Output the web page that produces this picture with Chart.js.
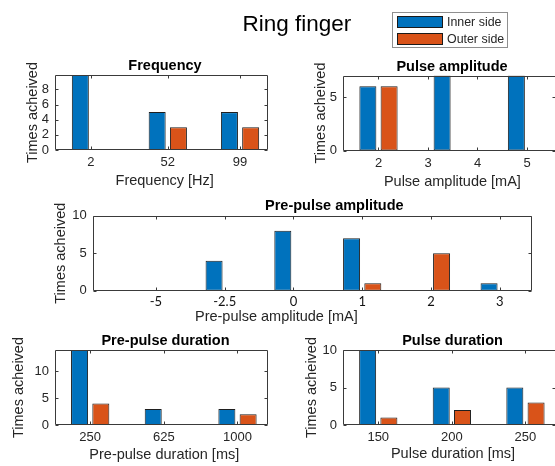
<!DOCTYPE html>
<html>
<head>
<meta charset="utf-8">
<title>Ring finger</title>
<script src="https://cdn.jsdelivr.net/npm/chart.js@4.4.1/dist/chart.umd.min.js"></script>
<style>
  html, body { margin: 0; padding: 0; background: #fff; }
  #fig { position: relative; width: 555px; height: 466px; overflow: hidden; background: #fff;
         font-family: "Liberation Sans", Arial, Helvetica, sans-serif; }
  canvas.panel { position: absolute; left: 0; top: 0; }
  #suptitle { position: absolute; left: 296.8px; top: 13.4px; transform: translateX(-50%);
              font-size: 22.5px; line-height: 22.5px; color: #000; white-space: nowrap; }
  #legend { position: absolute; left: 392px; top: 12px; width: 116px; height: 36px;
            border: 1px solid #8f8f8f; background: #fff; box-sizing: border-box; }
  .lg-item { position: absolute; left: 4px; height: 13px; }
  .lg-swatch { position: absolute; left: 0; top: 0; width: 46px; height: 12px;
               border: 1px solid #1a1a1a; box-sizing: border-box; }
  .lg-text { position: absolute; left: 50px; top: -1px; font-size: 12.4px; line-height: 14px;
             color: #262626; white-space: nowrap; }
</style>
</head>
<body>
<div id="fig">
  <canvas id="cFreq" class="panel" width="600" height="466"></canvas>
  <canvas id="cPulseAmp" class="panel" width="600" height="466"></canvas>
  <canvas id="cPrePulseAmp" class="panel" width="600" height="466"></canvas>
  <canvas id="cPrePulseDur" class="panel" width="600" height="466"></canvas>
  <canvas id="cPulseDur" class="panel" width="600" height="466"></canvas>
  <div id="suptitle">Ring finger</div>
  <div id="legend">
    <div class="lg-item" style="top:3px"><div class="lg-swatch" id="swInner"></div><div class="lg-text" id="txInner"></div></div>
    <div class="lg-item" style="top:19.5px"><div class="lg-swatch" id="swOuter"></div><div class="lg-text" id="txOuter"></div></div>
  </div>
</div>
<script>
// ---- data -----------------------------------------------------------------
const seriesNames = ['Inner side', 'Outer side'];

// Frequency [Hz]
const freqValues = [2, 52, 99];
const freqInner  = [10, 5, 5];
const freqOuter  = [0, 3, 3];
const freqYTicks = [0, 2, 4, 6, 8];

// Pulse amplitude [mA]
const pulseAmpValues = [2, 3.5, 5];
const pulseAmpInner  = [6, 7, 7];
const pulseAmpOuter  = [6, 0, 0];
const pulseAmpXTicks = [2, 3, 4, 5];
const pulseAmpYTicks = [0, 5];

// Pre-pulse amplitude [mA]
const prePulseAmpLabels = ['-5', '-2.5', '0', '1', '2', '3'];
const prePulseAmpInner  = [0, 4, 8, 7, 0, 1];
const prePulseAmpOuter  = [0, 0, 0, 1, 5, 0];
const prePulseAmpYTicks = [0, 5, 10];

// Pre-pulse duration [ms]
const prePulseDurValues = [250, 625, 1000];
const prePulseDurInner  = [14, 3, 3];
const prePulseDurOuter  = [4, 0, 2];
const prePulseDurYTicks = [0, 5, 10];

// Pulse duration [ms]
const pulseDurValues = [150, 200, 250];
const pulseDurInner  = [10, 5, 5];
const pulseDurOuter  = [1, 2, 3];
const pulseDurYTicks = [0, 5, 10];

// ---- styling ----------------------------------------------------------------
const INNER_COLOR = '#0072BD';
const OUTER_COLOR = '#D95319';
const EDGE_COLOR  = '#1f1f1f';
const AXIS_COLOR  = '#3a3a3a';
const TEXT_COLOR  = '#262626';
const FONT = '"Liberation Sans", Arial, Helvetica, sans-serif';
const CANVAS_W = 600, CANVAS_H = 466;
const Y_SCALE_W = 30, X_SCALE_H = 30;
const GROUP_PX = 42.5;      // width taken by a pair of bars
const TICK_LEN = 3;

// legend swatches and text
document.getElementById('swInner').style.background = INNER_COLOR;
document.getElementById('swOuter').style.background = OUTER_COLOR;
document.getElementById('txInner').textContent = seriesNames[0];
document.getElementById('txOuter').textContent = seriesNames[1];

// Box around the axes with inward tick marks, plus the panel texts
const axesBox = {
  id: 'axesBox',
  afterDraw(chart, args, opts) {
    const { ctx, chartArea: a } = chart;
    const x = chart.scales.x, y = chart.scales.y;
    ctx.save();
    ctx.strokeStyle = AXIS_COLOR;
    ctx.lineWidth = 1;
    const L = Math.round(a.left) + 0.5, R = Math.round(a.right) - 0.5;
    const T = Math.round(a.top) + 0.5, B = Math.round(a.bottom) - 0.5;
    ctx.beginPath();
    ctx.rect(L, T, R - L, B - T);
    x.ticks.forEach(t => {
      const px = Math.round(x.getPixelForValue(t.value)) + 0.5;
      ctx.moveTo(px, B); ctx.lineTo(px, B - TICK_LEN);
      ctx.moveTo(px, T); ctx.lineTo(px, T + TICK_LEN);
    });
    y.ticks.forEach(t => {
      const py = Math.round(y.getPixelForValue(t.value)) + 0.5;
      ctx.moveTo(L, py); ctx.lineTo(L + TICK_LEN, py);
      ctx.moveTo(R, py); ctx.lineTo(R - TICK_LEN, py);
    });
    ctx.stroke();

    const cx = (a.left + a.right) / 2, cy = (a.top + a.bottom) / 2;
    ctx.textBaseline = 'alphabetic';
    ctx.textAlign = 'center';
    // panel title
    ctx.fillStyle = '#000';
    ctx.font = 'bold 14.5px ' + FONT;
    ctx.fillText(opts.title, cx + opts.titleDx, a.top + opts.titleDy);
    // x label
    ctx.fillStyle = TEXT_COLOR;
    ctx.font = '14.5px ' + FONT;
    ctx.fillText(opts.xLabel, cx + opts.xLabelDx, a.bottom + opts.xLabelDy);
    // y label
    ctx.translate(a.left + opts.yLabelDx, cy);
    ctx.rotate(-Math.PI / 2);
    ctx.fillText(opts.yLabel, 0, 0);
    ctx.restore();
  }
};

// smallest positive step inside a sorted list of positions
function minStep(list) {
  const s = [...list].sort((a, b) => a - b);
  let m = Infinity;
  for (let i = 1; i < s.length; i++) {
    const d = s[i] - s[i - 1];
    if (d > 0) m = Math.min(m, d);
  }
  return m;
}

function panel(id, p) {
  const [L, T, R, B] = p.box;
  const pxPerUnit = (R - L) / (p.xlim[1] - p.xlim[0]);
  // Chart.js sizes grouped bars from the smaller of the data spacing and the tick spacing
  const minGap = Math.min(minStep(p.x), minStep(p.xticks));
  const catPct = GROUP_PX / (minGap * pxPerUnit);

  return new Chart(document.getElementById(id), {
    type: 'bar',
    data: {
      datasets: [
        { label: seriesNames[0], data: p.x.map((v, i) => ({ x: v, y: p.inner[i] })), backgroundColor: INNER_COLOR },
        { label: seriesNames[1], data: p.x.map((v, i) => ({ x: v, y: p.outer[i] })), backgroundColor: OUTER_COLOR }
      ]
    },
    options: {
      responsive: false,
      animation: false,
      devicePixelRatio: 1,
      events: [],
      layout: { padding: { left: L - Y_SCALE_W, top: T, right: CANVAS_W - R, bottom: CANVAS_H - B - X_SCALE_H } },
      datasets: {
        bar: {
          borderColor: EDGE_COLOR, borderWidth: 1, borderSkipped: false,
          categoryPercentage: catPct, barPercentage: 0.8
        }
      },
      scales: {
        x: {
          type: 'linear', offset: false, bounds: 'data',
          min: p.xlim[0], max: p.xlim[1],
          grid: { display: false, drawTicks: false }, border: { display: false },
          afterBuildTicks: s => { s.ticks = p.xticks.map(v => ({ value: v })); },
          afterFit: s => { s.height = X_SCALE_H; },
          ticks: {
            autoSkip: false, maxRotation: 0, minRotation: 0,
            padding: p.xTickPad, color: p.xTickColor || TEXT_COLOR,
            font: p.xTickFont || { family: FONT, size: 13 },
            callback: p.xFormat
          }
        },
        y: {
          type: 'linear', bounds: 'data', min: 0, max: p.ymax,
          grid: { display: false, drawTicks: false }, border: { display: false },
          afterBuildTicks: s => { s.ticks = p.yticks.map(v => ({ value: v })); },
          afterFit: s => { s.width = Y_SCALE_W; },
          ticks: { padding: 6, color: TEXT_COLOR, font: { family: FONT, size: 13 }, callback: v => String(v) }
        }
      },
      plugins: {
        legend: { display: false },
        tooltip: { enabled: false },
        axesBox: p.text
      }
    },
    plugins: [axesBox]
  });
}

const asNumber = v => String(v);

panel('cFreq', {
  box: [55, 75, 268, 150], xlim: [-21.4, 117.2], ymax: 9.9,
  x: freqValues, xticks: freqValues, inner: freqInner, outer: freqOuter, yticks: freqYTicks,
  xFormat: asNumber, xTickPad: 5,
  text: { title: 'Frequency', titleDx: 3.5, titleDy: -5,
          xLabel: 'Frequency [Hz]', xLabelDx: 3.2, xLabelDy: 35.3,
          yLabel: 'Times acheived', yLabelDx: -17.7 }
});

panel('cPulseAmp', {
  box: [343, 75.5, 556, 150.5], xlim: [1.283, 5.586], ymax: 7,
  x: pulseAmpValues, xticks: pulseAmpXTicks, inner: pulseAmpInner, outer: pulseAmpOuter, yticks: pulseAmpYTicks,
  xFormat: asNumber, xTickPad: 5,
  text: { title: 'Pulse amplitude', titleDx: 2.5, titleDy: -5,
          xLabel: 'Pulse amplitude [mA]', xLabelDx: 2.9, xLabelDy: 35.6,
          yLabel: 'Times acheived', yLabelDx: -18.3 }
});

const prePulseAmpIndex = prePulseAmpLabels.map((_, i) => i);
panel('cPrePulseAmp', {
  box: [92.7, 215.7, 532, 290.7], xlim: [-0.92, 5.47], ymax: 10,
  x: prePulseAmpIndex, xticks: prePulseAmpIndex, inner: prePulseAmpInner, outer: prePulseAmpOuter,
  yticks: prePulseAmpYTicks,
  xFormat: v => prePulseAmpLabels[v], xTickPad: 3,
  xTickColor: '#111', xTickFont: { family: 'Lato, "Open Sans", sans-serif', size: 13 },
  text: { title: 'Pre-pulse amplitude', titleDx: 22, titleDy: -5.5,
          xLabel: 'Pre-pulse amplitude [mA]', xLabelDx: -36, xLabelDy: 30.5,
          yLabel: 'Times acheived', yLabelDx: -27.7 }
});

panel('cPrePulseDur', {
  box: [55, 350, 268, 425], xlim: [70.8, 1155.3], ymax: 14,
  x: prePulseDurValues, xticks: prePulseDurValues, inner: prePulseDurInner, outer: prePulseDurOuter,
  yticks: prePulseDurYTicks,
  xFormat: asNumber, xTickPad: 5,
  text: { title: 'Pre-pulse duration', titleDx: 4, titleDy: -5,
          xLabel: 'Pre-pulse duration [ms]', xLabelDx: 2.8, xLabelDy: 33.7,
          yLabel: 'Times acheived', yLabelDx: -31.7 }
});

panel('cPulseDur', {
  box: [343, 350, 556, 425], xlim: [126.05, 270.75], ymax: 10,
  x: pulseDurValues, xticks: pulseDurValues, inner: pulseDurInner, outer: pulseDurOuter,
  yticks: pulseDurYTicks,
  xFormat: asNumber, xTickPad: 5,
  text: { title: 'Pulse duration', titleDx: 3, titleDy: -5,
          xLabel: 'Pulse duration [ms]', xLabelDx: 3.5, xLabelDy: 33,
          yLabel: 'Times acheived', yLabelDx: -26.6 }
});
</script>
</body>
</html>
